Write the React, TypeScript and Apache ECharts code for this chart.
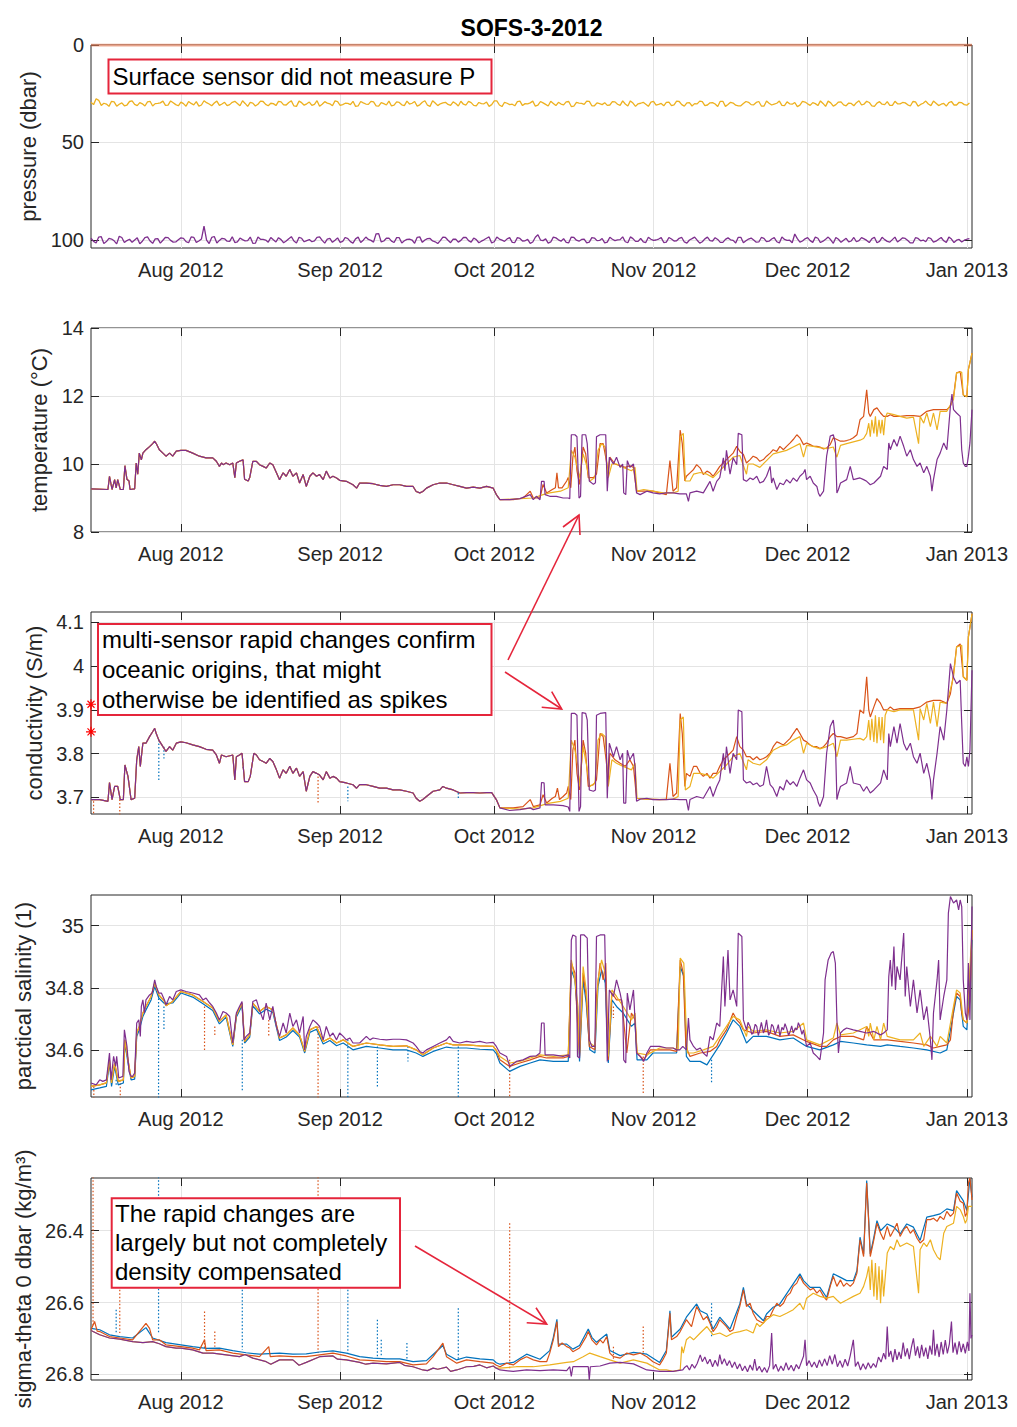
import React, { useEffect, useRef } from "react";
import * as echarts from "echarts";

const FONT = '"Liberation Sans", Arial, Helvetica, sans-serif';
const INK = "#262626";
const GRIDC = "#E4E4E4";
const C_BLUE = "#0072BD";
const C_ORANGE = "#D95319";
const C_YELLOW = "#EDB120";
const C_PURPLE = "#7E2F8E";
const RED = "#E5253B";

const AUG1 = Date.UTC(2012, 7, 1);
const DAY = 86400000;
const X_START_DAY = -17.5;
const X_END_DAY = 154;
const monthTicks = [
  Date.UTC(2012, 7, 1), Date.UTC(2012, 8, 1), Date.UTC(2012, 9, 1),
  Date.UTC(2012, 10, 1), Date.UTC(2012, 11, 1), Date.UTC(2013, 0, 1),
];
const MONTHS = ["Jan", "Feb", "Mar", "Apr", "May", "Jun", "Jul", "Aug", "Sep", "Oct", "Nov", "Dec"];

// ---------- tick labels ----------
const presTicks = [0, 50, 100];
const tempTicks = [8, 10, 12, 14];
const condTicks = [3.7, 3.8, 3.9, 4.0, 4.1];
const salTicks = [34.6, 34.8, 35.0];
const sigTicks = [26.4, 26.6, 26.8];

// ---------- pressure (dbar): daily samples from day -17.5 (A) and day -17.0 (B) ----------
const presOrange = [[-17.5, 0], [154, 0]];
const presYellowA = [
  29.4, 27.6, 31.0, 30.3, 28.9, 31.4, 29.7, 30.8, 28.7, 31.1,
  30.2, 29.2, 31.3, 30.0, 28.8, 30.9, 29.6, 31.2, 30.1, 29.0,
  30.7, 31.4, 28.6, 30.3, 29.8, 31.0, 29.4, 30.6, 28.9, 31.2,
  30.0, 29.5, 31.3, 28.8, 30.5, 29.9, 31.1, 29.2, 30.8, 28.7,
  31.5, 29.6, 30.2, 31.0, 28.6, 30.4, 29.8, 31.2, 29.1, 30.6,
  30.0, 28.9, 31.3, 29.7, 30.5, 29.2, 31.4, 30.1, 28.8, 30.9,
  29.5, 31.1, 30.3, 29.0, 30.7, 28.6, 31.5, 29.8, 30.2, 29.4,
  31.0, 30.0, 28.9, 30.8, 29.6, 31.2, 30.1, 29.3, 30.6, 28.7,
  31.6, 29.9, 30.4, 29.1, 31.1, 30.2, 28.8, 30.9, 29.7, 31.3,
  30.0, 29.4, 30.7, 29.0, 31.4, 29.8, 30.5, 28.9, 31.2, 30.1,
  29.6, 30.8, 29.2, 31.0, 30.3, 28.7, 31.5, 29.9, 30.4, 29.3,
  30.9, 30.0, 29.5, 31.1, 28.8, 30.6, 29.7, 31.3, 30.2, 29.1,
  30.8, 29.6, 31.6, 28.9, 30.5, 29.8, 31.2, 30.0, 29.4, 30.7,
  29.0, 31.4, 29.9, 30.3, 28.8, 31.1, 30.2, 29.5, 30.9, 29.3,
  31.0, 30.1, 28.7, 31.5, 29.7, 30.6, 29.2, 31.2, 30.0, 29.6,
  30.8, 28.9, 31.3, 29.8, 30.4, 29.1, 31.0, 30.2, 29.5, 30.7,
  29.0, 31.4, 29.9, 30.3, 28.8, 31.1, 30.0, 29.6, 30.8, 29.4,
  30.6, 29.8,
];
const presYellowB = [
  30.6, 28.4, 29.9, 31.5, 29.2, 30.4, 31.2, 29.0, 30.5, 29.6,
  31.3, 28.9, 30.1, 29.7, 31.0, 28.7, 30.6, 29.3, 31.4, 30.0,
  29.1, 30.8, 29.6, 31.2, 28.8, 30.3, 31.1, 29.4, 30.0, 28.6,
  31.5, 29.8, 30.4, 29.0, 31.2, 30.1, 28.9, 30.7, 29.5, 31.3,
  28.8, 30.9, 29.3, 30.5, 31.4, 29.1, 30.2, 28.7, 31.0, 29.9,
  30.6, 31.5, 29.0, 30.3, 28.9, 31.2, 29.6, 30.8, 31.3, 29.2,
  30.7, 28.8, 29.9, 31.4, 29.4, 30.9, 28.6, 31.1, 29.7, 30.5,
  29.2, 31.3, 30.4, 28.9, 31.0, 29.5, 30.2, 31.5, 28.7, 30.8,
  29.4, 30.6, 31.2, 28.8, 30.1, 29.7, 31.4, 29.0, 30.5, 28.9,
  31.1, 30.3, 29.2, 31.6, 29.5, 30.0, 28.8, 31.2, 29.7, 30.6,
  31.0, 29.1, 30.4, 28.7, 31.3, 29.8, 30.2, 29.4, 31.5, 28.9,
  30.5, 31.2, 29.3, 30.7, 29.0, 31.4, 29.6, 30.1, 28.8, 31.1,
  29.7, 30.3, 28.9, 31.5, 29.4, 30.9, 31.2, 29.0, 30.6, 29.5,
  31.3, 28.7, 30.8, 29.9, 31.0, 29.2, 30.4, 31.6, 28.9, 30.2,
  29.6, 31.1, 30.0, 28.8, 31.4, 29.3, 30.7, 29.8, 31.2, 28.6,
  30.3, 29.5, 31.5, 29.1, 30.6, 31.0, 28.9, 30.2, 29.7, 31.3,
  29.2, 30.5, 28.8, 31.1, 29.9, 30.4, 31.4, 29.0, 30.8, 29.6,
  30.9,
];
const presPurpleA = [
  99.2, 101.6, 98.4, 100.9, 99.6, 102.1, 98.8, 100.4, 101.3, 99.0,
  100.7, 98.5, 101.8, 99.4, 100.2, 98.9, 101.2, 100.0, 99.3, 101.5,
  98.7, 100.6, 93.0, 101.9, 98.3, 100.3, 99.5, 100.8, 101.4, 99.1,
  100.5, 98.6, 101.7, 99.7, 100.1, 98.8, 101.1, 99.9, 100.6, 98.4,
  101.6, 99.2, 100.4, 101.0, 98.7, 100.3, 99.6, 101.3, 99.0, 100.8,
  99.4, 101.7, 98.6, 100.2, 99.8, 101.2, 96.8, 100.6, 99.1, 101.4,
  98.9, 100.5, 99.7, 101.8, 98.5, 100.1, 99.3, 101.0, 100.4, 98.8,
  101.5, 99.6, 100.3, 98.7, 101.2, 99.9, 100.7, 99.2, 101.6, 98.6,
  100.2, 99.5, 101.3, 98.9, 100.6, 99.8, 101.1, 97.4, 100.4, 101.7,
  98.6, 100.0, 99.4, 101.5, 98.8, 100.7, 99.6, 101.2, 99.1, 100.3,
  101.6, 98.7, 100.4, 99.9, 101.0, 98.5, 100.8, 99.3, 101.4, 99.7,
  100.1, 98.9, 101.2, 99.6, 100.5, 98.8, 101.7, 99.4, 100.2, 101.0,
  98.6, 100.6, 99.8, 101.3, 99.0, 100.3, 98.7, 101.5, 99.6, 100.1,
  101.1, 99.3, 100.7, 98.9, 101.6, 99.8, 100.2, 97.0, 101.2, 99.5,
  100.4, 98.6, 101.4, 99.7, 100.0, 98.8, 101.3, 99.2, 100.6, 101.0,
  98.9, 100.3, 99.5, 101.5, 98.7, 100.8, 99.9, 101.1, 99.0, 100.4,
  101.6, 99.3, 100.1, 98.8, 101.2, 99.7, 100.5, 98.6, 101.4, 99.8,
  100.2, 99.4,
];
const presPurpleB = [
  100.8, 98.6, 101.9, 99.3, 100.5, 98.2, 101.4, 99.7, 100.1, 102.0,
  98.9, 100.6, 99.5, 101.7, 98.7, 100.3, 101.1, 99.0, 100.9, 98.5,
  101.3, 99.6, 100.2, 98.8, 101.6, 99.2, 100.7, 98.4, 101.0, 99.9,
  100.4, 101.8, 98.6, 99.8, 101.2, 100.0, 98.9, 101.5, 99.4, 100.6,
  98.7, 101.0, 99.9, 100.5, 98.5, 101.7, 99.3, 100.2, 101.3, 98.8,
  100.9, 99.5, 101.4, 98.6, 100.3, 96.9, 101.1, 99.2, 100.7, 98.9,
  101.6, 99.8, 100.1, 98.7, 101.3, 99.4, 100.6, 101.9, 98.6, 100.2,
  99.7, 101.2, 98.8, 100.4, 99.1, 101.5, 100.0, 98.5, 101.0, 99.6,
  100.8, 98.9, 101.4, 99.3, 100.5, 101.8, 98.7, 100.1, 99.5, 101.1,
  99.0, 100.7, 101.3, 98.6, 100.2, 99.8, 101.6, 98.9, 100.4, 99.3,
  101.2, 99.7, 100.0, 98.5, 101.5, 99.4, 100.8, 101.0, 98.7, 100.3,
  99.6, 101.4, 98.8, 100.6, 99.2, 101.1, 100.1, 98.6, 101.7, 99.5,
  100.4, 98.9, 101.3, 99.8, 100.0, 101.6, 98.7, 100.5, 99.1, 101.2,
  98.8, 100.9, 99.6, 101.0, 98.5, 100.3, 101.5, 99.4, 100.6, 98.9,
  101.3, 99.2, 100.7, 98.6, 101.8, 99.7, 100.2, 101.1, 98.8, 100.4,
  99.5, 101.4, 98.7, 100.8, 99.9, 101.2, 98.6, 100.1, 99.3, 101.6,
  98.9, 100.5, 101.0, 99.4, 100.7, 98.8, 101.3, 99.6, 100.2, 101.1,
  99.7,
];

// ---------- temperature (°C), [day since 1 Aug 2012, value] ----------
const tempEarly = [
  [-17.5, 9.27], [-14.2, 9.25], [-13.9, 9.64], [-13.4, 9.25], [-12.9, 9.54], [-12.6, 9.3], [-12.3, 9.54], [-11.8, 9.25],
  [-11.2, 9.25], [-10.9, 9.95], [-10.5, 9.55], [-10.1, 9.5], [-9.9, 9.25], [-9.0, 9.27], [-8.7, 10.03], [-8.4, 9.7],
  [-8.1, 10.32], [-7.7, 10.12], [-7.4, 10.32], [-6.8, 10.42], [-6.1, 10.51], [-5.5, 10.6], [-5.1, 10.67], [-4.8, 10.6],
  [-4.2, 10.42], [-3.5, 10.32], [-2.9, 10.23], [-2.2, 10.32], [-1.6, 10.23], [-0.9, 10.38], [0, 10.4], [1.0, 10.4],
  [2.3, 10.32], [3.6, 10.23], [4.9, 10.18], [6.2, 10.18], [6.9, 10.08], [7.5, 9.93], [7.9, 10.03], [8.2, 9.98],
  [8.8, 10.03], [9.5, 9.98], [10.1, 10.03], [10.5, 9.6], [10.8, 10.03], [11.4, 10.08], [12.1, 10.12], [12.4, 9.55],
  [13.1, 9.5], [13.4, 9.6], [14.0, 10.08], [14.7, 10.08], [15.3, 9.98], [16.0, 9.93], [16.6, 9.88], [17.3, 10.03],
  [17.9, 9.98], [18.6, 9.74], [19.2, 9.54], [19.9, 9.74], [20.5, 9.64], [21.2, 9.84], [21.8, 9.64], [22.5, 9.74],
  [23.1, 9.44], [23.8, 9.69], [24.4, 9.34], [25.1, 9.64], [25.7, 9.74], [26.4, 9.64], [27.0, 9.69], [27.7, 9.54],
  [28.3, 9.79], [29.0, 9.59], [29.6, 9.64], [30.3, 9.59], [30.9, 9.52], [32.2, 9.49], [33.5, 9.39], [34.2, 9.29],
  [34.8, 9.44], [36.1, 9.44], [37.4, 9.42], [38.7, 9.37], [40.0, 9.34], [41.3, 9.39], [42.6, 9.39], [43.9, 9.34],
  [45.2, 9.34], [45.8, 9.19], [46.5, 9.15], [47.1, 9.19], [47.8, 9.29], [49.1, 9.39], [50.4, 9.44], [51.7, 9.44],
  [53.0, 9.39], [54.3, 9.34], [55.6, 9.29], [56.9, 9.32], [58.2, 9.29], [59.5, 9.34], [60.8, 9.29], [61.4, 9.1],
];
const tempPurpleLate = [
  [62.1, 8.95], [64.0, 8.95], [66.0, 8.98], [68.0, 9.1], [68.6, 8.95], [69.2, 9.05], [69.9, 8.95], [70.2, 9.49],
  [70.7, 9.49], [70.9, 9.1], [71.8, 9.05], [73.1, 9.05], [74.4, 9.0], [75.4, 9.0], [75.7, 8.98], [76.0, 10.86],
  [76.7, 10.86], [77.1, 10.8], [77.5, 9.0], [77.8, 9.05], [78.1, 10.86], [78.8, 10.86], [79.1, 10.6], [79.5, 9.5],
  [80.3, 9.4], [80.7, 9.45], [80.9, 10.8], [81.6, 10.86], [82.7, 10.86], [83.0, 9.2], [83.4, 10.2], [84.2, 10.0],
  [84.8, 10.2], [85.5, 9.9], [86.0, 10.0], [86.2, 9.15], [86.6, 9.1], [86.9, 10.1], [87.4, 9.9], [88.1, 10.0],
  [88.4, 9.6], [88.7, 9.15], [89.4, 9.1], [90.7, 9.2], [91.9, 9.15], [93.2, 9.12], [94.5, 9.15], [95.8, 9.15],
  [97.1, 9.12], [98.4, 9.12], [98.8, 8.9], [99.1, 9.15], [100.4, 9.2], [101.7, 9.15], [103.0, 9.49], [103.6, 9.2],
  [104.3, 9.49], [104.9, 9.6], [105.6, 10.18], [105.9, 9.8], [106.2, 10.4], [106.9, 9.7], [107.5, 10.18], [108.2, 9.98],
  [108.5, 10.9], [109.2, 10.86], [109.5, 9.54], [110.1, 9.49], [110.8, 9.59], [111.4, 9.54], [112.1, 9.64], [112.7, 9.44],
  [113.4, 9.49], [114.0, 9.64], [114.7, 9.93], [115.0, 9.44], [115.3, 9.59], [116.0, 9.25], [116.6, 9.44], [117.3, 9.39],
  [117.9, 9.54], [118.6, 9.44], [119.2, 9.59], [119.9, 9.49], [120.5, 9.64], [121.2, 9.74], [121.5, 9.84], [121.8, 9.54],
  [122.5, 9.64], [123.1, 9.44], [123.8, 9.34], [124.1, 9.15], [124.4, 9.05], [125.1, 9.2], [125.7, 10.23], [126.4, 10.82],
  [127.0, 10.86], [127.4, 10.62], [127.7, 9.15], [128.0, 9.25], [128.4, 9.44], [129.6, 9.54], [130.3, 9.93], [130.9, 9.54],
  [132.2, 9.59], [132.9, 9.54], [133.5, 9.49], [134.2, 9.39], [134.9, 9.44], [136.2, 9.64], [136.8, 9.93], [137.5, 9.84],
  [137.8, 10.62], [138.1, 10.42], [138.8, 10.72], [139.4, 10.52], [140.0, 10.82], [140.7, 10.52], [141.3, 10.23], [142.0, 10.42],
  [142.6, 10.13], [143.3, 9.93], [143.9, 10.03], [144.6, 9.74], [145.2, 9.93], [145.9, 9.64], [146.2, 9.2], [146.5, 9.54],
  [147.2, 10.13], [147.8, 10.32], [148.5, 10.62], [149.1, 10.42], [149.8, 11.7], [150.1, 12.06], [150.4, 11.6], [151.0, 11.5],
  [151.7, 11.4], [152.0, 10.42], [152.3, 10.03], [152.7, 9.93], [153.0, 9.93], [153.3, 10.23], [153.6, 10.62], [154.0, 11.6],
];
const tempOrangeLate = [
  [62.1, 8.95], [64.7, 8.95], [66.6, 9.0], [67.3, 9.1], [68.0, 9.2], [68.6, 9.0], [69.9, 9.0], [70.5, 9.4],
  [71.2, 9.15], [72.3, 9.25], [72.9, 9.3], [73.2, 9.74], [73.5, 9.3], [74.2, 9.3], [75.1, 9.5], [75.4, 9.6],
  [75.9, 9.3], [76.3, 10.2], [76.7, 10.5], [77.1, 9.8], [77.6, 9.4], [78.3, 10.5], [78.8, 10.3], [79.3, 9.6],
  [80.3, 9.6], [80.9, 9.7], [81.6, 10.6], [82.2, 10.6], [82.7, 10.2], [83.2, 9.7], [83.5, 10.2], [84.5, 10.0],
  [85.5, 9.95], [86.5, 9.9], [87.4, 9.95], [88.1, 9.9], [88.7, 9.2], [89.4, 9.2], [90.7, 9.2], [91.9, 9.2],
  [93.2, 9.15], [94.5, 9.1], [95.2, 10.1], [95.8, 9.2], [96.5, 9.3], [97.2, 11.0], [97.6, 10.6], [98.1, 9.5],
  [98.4, 9.64], [99.1, 9.74], [99.8, 9.84], [100.4, 9.98], [101.1, 9.88], [101.7, 9.69], [102.4, 9.79], [103.0, 9.74],
  [103.6, 9.64], [104.3, 9.79], [104.9, 9.93], [105.6, 10.03], [106.2, 10.13], [106.9, 10.23], [107.5, 10.32], [108.2, 10.52],
  [108.8, 10.37], [109.5, 10.28], [110.1, 10.03], [110.8, 10.13], [111.4, 10.23], [112.1, 10.18], [112.7, 10.08], [113.4, 10.13],
  [114.0, 10.23], [114.7, 10.32], [115.3, 10.42], [116.0, 10.37], [116.6, 10.52], [117.3, 10.42], [117.9, 10.52], [118.6, 10.62],
  [119.2, 10.72], [119.9, 10.86], [120.5, 10.77], [121.2, 10.57], [121.8, 10.62], [122.5, 10.57], [123.1, 10.52], [123.8, 10.52],
  [124.4, 10.5], [125.1, 10.44], [125.7, 10.47], [126.4, 10.57], [127.0, 10.77], [127.7, 10.72], [128.4, 10.67], [129.0, 10.67],
  [129.6, 10.69], [130.3, 10.72], [130.9, 10.77], [131.6, 10.86], [132.2, 11.3], [132.9, 11.4], [133.5, 12.18], [133.9, 11.5],
  [134.2, 11.4], [134.9, 11.6], [135.5, 11.65], [136.2, 11.5], [136.8, 11.4], [137.5, 11.4], [138.1, 11.45], [138.8, 11.4],
  [140.0, 11.4], [141.3, 11.42], [142.6, 11.42], [143.9, 11.4], [145.2, 11.55], [146.5, 11.6], [147.8, 11.6], [149.1, 11.6],
  [149.8, 11.7], [150.4, 11.98], [151.0, 12.68], [151.7, 12.72], [152.3, 12.03], [153.0, 11.98], [153.3, 12.78], [153.6, 12.98],
  [154.0, 13.26],
];
const tempYellowLate = [
  [62.1, 8.95], [66.0, 8.98], [68.6, 9.0], [70.5, 9.1], [71.8, 9.15], [73.9, 9.2], [75.4, 9.3], [76.0, 10.4],
  [76.7, 10.2], [77.3, 9.8], [77.6, 9.6], [78.3, 10.3], [78.9, 10.0], [79.6, 9.5], [80.6, 9.6], [81.2, 10.4],
  [81.9, 10.6], [82.6, 10.5], [83.2, 9.6], [83.9, 10.0], [84.8, 10.0], [86.1, 9.9], [87.7, 9.8], [88.4, 9.9],
  [88.8, 9.2], [90.1, 9.25], [91.9, 9.2], [93.9, 9.15], [95.8, 9.15], [96.8, 9.2], [97.2, 10.8], [97.8, 10.9],
  [98.2, 9.5], [99.1, 9.5], [99.8, 9.7], [101.1, 9.75], [102.4, 9.7], [103.6, 9.6], [104.9, 9.8], [106.2, 10.0],
  [107.5, 10.2], [108.8, 10.25], [110.1, 9.7], [110.4, 10.0], [111.4, 10.0], [112.7, 9.9], [114.0, 10.1], [115.3, 10.3],
  [116.6, 10.35], [117.9, 10.4], [119.2, 10.5], [120.5, 10.6], [121.2, 10.2], [121.8, 10.55], [123.1, 10.52], [124.4, 10.48],
  [125.7, 10.45], [127.0, 10.5], [127.7, 10.2], [128.4, 10.55], [129.6, 10.6], [130.9, 10.65], [132.2, 10.7], [132.9, 10.75],
  [133.5, 10.9], [133.9, 11.2], [134.2, 10.8], [134.5, 11.3], [134.9, 10.9], [135.2, 11.4], [135.5, 10.8], [135.9, 11.3],
  [136.2, 10.9], [136.5, 11.3], [136.8, 10.85], [137.1, 11.35], [137.5, 11.5], [138.8, 11.45], [140.0, 11.4], [141.3, 11.35],
  [142.6, 11.38], [143.6, 10.6], [143.9, 11.4], [144.6, 11.2], [145.2, 11.5], [145.9, 11.1], [146.5, 11.5], [147.2, 11.0],
  [147.8, 11.55], [149.1, 11.55], [150.4, 11.9], [151.0, 12.68], [152.0, 12.7], [152.3, 12.03], [153.0, 11.98], [153.3, 12.78],
  [154.0, 13.26],
];

// ---------- conductivity (S/m) ----------
const condEarly = [
  [-17.5, 3.695], [-15.8, 3.695], [-14.2, 3.691], [-13.9, 3.734], [-13.4, 3.695], [-12.9, 3.725], [-12.3, 3.725], [-11.8, 3.695],
  [-11.2, 3.695], [-10.9, 3.774], [-10.3, 3.748], [-9.7, 3.695], [-9.0, 3.698], [-8.6, 3.786], [-8.2, 3.816], [-7.9, 3.771],
  [-7.4, 3.824], [-6.8, 3.824], [-6.1, 3.839], [-5.5, 3.85], [-5.1, 3.858], [-4.8, 3.846], [-4.3, 3.831], [-3.5, 3.816],
  [-2.9, 3.805], [-2.2, 3.816], [-1.6, 3.808], [-0.9, 3.824], [0, 3.827], [1.0, 3.825], [2.3, 3.82], [3.6, 3.816],
  [4.9, 3.81], [6.2, 3.808], [6.9, 3.797], [7.5, 3.778], [7.9, 3.797], [8.8, 3.793], [10.1, 3.797], [10.5, 3.74],
  [10.8, 3.793], [11.4, 3.797], [11.9, 3.801], [12.4, 3.736], [13.1, 3.736], [13.5, 3.748], [14.2, 3.801], [14.7, 3.797],
  [15.3, 3.786], [16.0, 3.782], [16.6, 3.778], [17.3, 3.789], [17.9, 3.782], [18.6, 3.763], [19.2, 3.744], [19.9, 3.763],
  [20.5, 3.755], [21.2, 3.771], [21.8, 3.755], [22.5, 3.767], [23.1, 3.748], [23.8, 3.759], [24.4, 3.714], [25.1, 3.748],
  [25.7, 3.759], [26.4, 3.755], [27.0, 3.751], [27.7, 3.74], [28.3, 3.759], [29.0, 3.744], [29.6, 3.748], [30.3, 3.744],
  [30.9, 3.736], [32.2, 3.733], [33.5, 3.729], [34.2, 3.721], [34.8, 3.729], [36.1, 3.729], [37.4, 3.725], [38.7, 3.721],
  [40.0, 3.721], [41.3, 3.717], [42.6, 3.717], [43.9, 3.714], [45.2, 3.71], [45.8, 3.698], [46.5, 3.691], [47.1, 3.695],
  [47.8, 3.702], [49.1, 3.714], [50.4, 3.717], [51.0, 3.725], [51.7, 3.721], [53.0, 3.717], [54.3, 3.71], [55.6, 3.711],
  [56.9, 3.711], [58.2, 3.71], [59.5, 3.711], [60.5, 3.711], [61.4, 3.695],
];
const condPurpleLate = [
  [62.1, 3.676], [64.0, 3.67], [66.0, 3.672], [68.0, 3.676], [68.6, 3.672], [69.9, 3.676], [70.2, 3.734], [70.7, 3.733],
  [70.9, 3.683], [72.5, 3.683], [74.4, 3.681], [75.4, 3.678], [75.7, 3.668], [76.0, 3.892], [76.7, 3.892], [77.1, 3.888],
  [77.5, 3.668], [77.8, 3.679], [78.1, 3.894], [78.8, 3.892], [79.1, 3.877], [79.5, 3.717], [80.3, 3.714], [80.7, 3.717],
  [80.9, 3.888], [81.6, 3.892], [82.7, 3.894], [83.0, 3.698], [83.4, 3.824], [84.2, 3.793], [84.8, 3.816], [85.5, 3.786],
  [86.0, 3.801], [86.2, 3.687], [86.6, 3.687], [86.9, 3.808], [87.4, 3.786], [88.1, 3.801], [88.4, 3.771], [88.7, 3.691],
  [89.4, 3.696], [90.7, 3.698], [91.9, 3.695], [93.2, 3.695], [94.5, 3.695], [95.8, 3.696], [97.1, 3.695], [98.4, 3.695],
  [98.8, 3.67], [99.1, 3.695], [100.4, 3.702], [101.7, 3.698], [103.0, 3.725], [103.6, 3.702], [104.3, 3.725], [104.9, 3.74],
  [105.6, 3.801], [105.9, 3.763], [106.2, 3.816], [106.9, 3.755], [107.5, 3.801], [108.2, 3.786], [108.5, 3.9], [109.2, 3.896],
  [109.5, 3.74], [110.1, 3.733], [110.8, 3.736], [111.4, 3.729], [112.1, 3.733], [112.7, 3.725], [113.4, 3.729], [114.0, 3.771],
  [114.7, 3.729], [115.3, 3.721], [116.0, 3.702], [116.6, 3.725], [117.3, 3.717], [117.9, 3.74], [118.6, 3.729], [119.2, 3.736],
  [119.9, 3.725], [120.5, 3.744], [121.2, 3.763], [121.8, 3.74], [122.5, 3.733], [123.1, 3.717], [123.8, 3.702], [124.1, 3.687],
  [124.4, 3.679], [125.1, 3.702], [125.7, 3.801], [126.4, 3.862], [127.0, 3.877], [127.4, 3.831], [127.7, 3.695], [128.0, 3.71],
  [128.4, 3.725], [129.6, 3.733], [130.3, 3.771], [130.9, 3.733], [132.2, 3.729], [132.9, 3.714], [133.5, 3.725], [134.2, 3.71],
  [134.9, 3.717], [136.2, 3.733], [136.8, 3.763], [137.5, 3.74], [137.8, 3.846], [138.1, 3.816], [138.8, 3.862], [139.4, 3.824],
  [140.0, 3.869], [140.7, 3.824], [141.3, 3.808], [142.0, 3.824], [142.6, 3.793], [143.3, 3.778], [143.9, 3.801], [144.6, 3.755],
  [145.2, 3.778], [145.9, 3.74], [146.2, 3.695], [146.5, 3.74], [147.2, 3.801], [147.8, 3.862], [148.5, 3.831], [149.1, 3.9],
  [149.8, 4.006], [150.1, 3.991], [150.4, 3.975], [151.0, 3.96], [151.7, 3.968], [152.0, 3.869], [152.3, 3.778], [152.7, 3.771],
  [153.0, 3.793], [153.3, 3.771], [153.6, 3.808], [154.0, 3.991],
];
const condOrangeLate = [
  [62.1, 3.676], [64.7, 3.676], [66.6, 3.679], [68.0, 3.695], [68.6, 3.679], [69.9, 3.683], [70.5, 3.706], [71.2, 3.687],
  [72.3, 3.698], [72.9, 3.702], [73.3, 3.721], [73.7, 3.695], [74.4, 3.702], [75.1, 3.71], [75.4, 3.725], [75.9, 3.695],
  [76.3, 3.808], [76.7, 3.831], [77.1, 3.755], [77.6, 3.717], [78.3, 3.831], [78.8, 3.801], [79.3, 3.725], [80.3, 3.729],
  [80.9, 3.74], [81.6, 3.846], [82.2, 3.839], [82.7, 3.793], [83.2, 3.74], [83.5, 3.801], [84.5, 3.786], [85.5, 3.778],
  [86.5, 3.771], [87.4, 3.786], [88.1, 3.771], [88.7, 3.698], [90.7, 3.696], [93.2, 3.695], [94.5, 3.696], [95.2, 3.778],
  [95.8, 3.702], [96.5, 3.71], [97.2, 3.892], [97.6, 3.846], [98.1, 3.725], [98.4, 3.755], [99.1, 3.748], [99.8, 3.771],
  [100.4, 3.771], [101.1, 3.755], [101.7, 3.748], [102.4, 3.755], [103.0, 3.744], [103.6, 3.755], [104.3, 3.755], [104.9, 3.771],
  [105.6, 3.786], [106.2, 3.793], [106.9, 3.801], [107.5, 3.808], [108.2, 3.839], [108.8, 3.816], [109.5, 3.808], [110.1, 3.793],
  [110.8, 3.793], [111.4, 3.786], [112.1, 3.793], [112.7, 3.786], [113.4, 3.789], [114.0, 3.793], [114.7, 3.801], [115.3, 3.816],
  [116.0, 3.827], [116.6, 3.824], [117.3, 3.82], [117.9, 3.827], [118.6, 3.835], [119.2, 3.846], [119.9, 3.858], [120.5, 3.846],
  [121.2, 3.831], [121.8, 3.827], [122.5, 3.82], [123.1, 3.816], [123.8, 3.816], [124.4, 3.812], [125.1, 3.816], [125.7, 3.824],
  [126.4, 3.839], [127.0, 3.846], [127.7, 3.839], [128.4, 3.839], [129.6, 3.835], [130.9, 3.839], [131.6, 3.846], [132.2, 3.9],
  [132.9, 3.892], [133.5, 3.976], [133.9, 3.9], [134.2, 3.884], [134.9, 3.907], [135.5, 3.926], [136.2, 3.915], [136.8, 3.9],
  [137.5, 3.9], [138.1, 3.907], [138.8, 3.9], [140.0, 3.903], [141.3, 3.903], [142.6, 3.903], [143.9, 3.907], [145.2, 3.918],
  [146.5, 3.922], [147.8, 3.922], [149.1, 3.915], [149.8, 3.937], [150.4, 3.983], [151.0, 4.044], [151.7, 4.051], [152.3, 3.976],
  [153.0, 3.968], [153.3, 4.067], [153.6, 4.089], [154.0, 4.12],
];
const condYellowLate = [
  [62.1, 3.676], [66.0, 3.673], [68.6, 3.676], [70.5, 3.683], [71.8, 3.687], [73.9, 3.691], [75.4, 3.698], [76.0, 3.831],
  [76.7, 3.808], [77.3, 3.771], [77.6, 3.725], [78.3, 3.816], [78.9, 3.778], [79.6, 3.725], [80.6, 3.733], [81.2, 3.831],
  [81.9, 3.846], [82.6, 3.839], [83.2, 3.725], [83.9, 3.786], [84.8, 3.778], [86.1, 3.771], [87.7, 3.763], [88.4, 3.778],
  [88.8, 3.698], [90.7, 3.696], [93.9, 3.695], [95.8, 3.696], [96.8, 3.702], [97.2, 3.877], [97.8, 3.884], [98.2, 3.717],
  [99.1, 3.725], [99.8, 3.755], [101.1, 3.755], [102.4, 3.751], [103.6, 3.744], [104.9, 3.759], [106.2, 3.774], [107.5, 3.793],
  [108.8, 3.801], [110.1, 3.763], [110.4, 3.786], [111.4, 3.778], [112.7, 3.774], [114.0, 3.786], [115.3, 3.808], [116.6, 3.816],
  [117.9, 3.82], [119.2, 3.831], [120.5, 3.839], [121.2, 3.801], [121.8, 3.824], [123.1, 3.816], [124.4, 3.811], [125.7, 3.816],
  [127.0, 3.824], [127.7, 3.793], [128.4, 3.831], [129.6, 3.831], [130.9, 3.833], [132.2, 3.835], [132.9, 3.831], [133.5, 3.839],
  [133.9, 3.877], [134.2, 3.831], [134.5, 3.88], [134.9, 3.827], [135.2, 3.888], [135.5, 3.824], [135.9, 3.884], [136.2, 3.831],
  [136.5, 3.884], [136.8, 3.824], [137.1, 3.888], [137.5, 3.9], [138.8, 3.896], [140.0, 3.9], [141.3, 3.9], [142.6, 3.9],
  [143.6, 3.831], [143.9, 3.903], [144.6, 3.877], [145.2, 3.915], [145.9, 3.869], [146.5, 3.918], [147.2, 3.862], [147.8, 3.918],
  [149.1, 3.915], [150.4, 3.975], [151.0, 4.044], [152.0, 4.048], [152.3, 3.976], [153.0, 3.968], [153.3, 4.067], [154.0, 4.12],
];
const condLimits = [[-17.5, 3.913], [-17.5, 3.85]];
// [day, from, to]
const condBlueSpikes = [[-4.3, 3.831, 3.74], [-3.3, 3.816, 3.789], [12.1, 3.778, 3.763], [32.5, 3.725, 3.691], [54.0, 3.71, 3.695]];
const condOrangeSpikes = [[-17.0, 3.691, 3.66], [-11.9, 3.695, 3.66], [26.7, 3.748, 3.687]];

// ---------- practical salinity ----------
const salPurpleEarly = [
  [-17.5, 34.496], [-16.5, 34.49], [-15.8, 34.506], [-15.2, 34.501], [-14.5, 34.506], [-13.9, 34.592], [-13.6, 34.506], [-13.1, 34.581],
  [-12.7, 34.549], [-12.5, 34.581], [-12.1, 34.512], [-11.3, 34.517], [-11.0, 34.666], [-10.5, 34.613], [-10.1, 34.533], [-9.7, 34.517],
  [-9.4, 34.517], [-9.0, 34.528], [-8.6, 34.688], [-8.2, 34.698], [-7.9, 34.645], [-7.7, 34.741], [-7.4, 34.762], [-7.1, 34.72],
  [-6.8, 34.762], [-6.1, 34.778], [-5.6, 34.784], [-5.1, 34.826], [-4.8, 34.805], [-4.3, 34.784], [-3.8, 34.784], [-3.2, 34.762],
  [-2.9, 34.746], [-2.2, 34.773], [-1.6, 34.762], [-0.9, 34.789], [0, 34.794], [1.0, 34.789], [2.3, 34.784], [3.6, 34.778],
  [4.3, 34.762], [4.9, 34.768], [5.6, 34.752], [6.2, 34.741], [6.9, 34.72], [7.5, 34.698], [8.2, 34.725], [8.8, 34.72],
  [9.5, 34.709], [10.1, 34.624], [10.8, 34.72], [11.4, 34.741], [11.9, 34.757], [12.3, 34.634], [12.7, 34.645], [13.4, 34.656],
  [14.0, 34.757], [14.7, 34.762], [15.3, 34.73], [16.0, 34.698], [16.6, 34.752], [17.3, 34.698], [17.9, 34.741], [18.6, 34.677],
  [19.2, 34.645], [19.9, 34.688], [20.5, 34.656], [21.2, 34.72], [21.8, 34.677], [22.5, 34.698], [23.1, 34.656], [23.8, 34.709],
  [24.1, 34.602], [24.4, 34.645], [25.1, 34.677], [25.7, 34.698], [26.4, 34.688], [27.0, 34.677], [27.7, 34.634], [28.3, 34.677],
  [29.0, 34.645], [29.6, 34.656], [30.3, 34.634], [30.9, 34.656], [31.6, 34.645], [32.2, 34.634], [32.9, 34.64], [33.5, 34.624],
  [34.8, 34.624], [36.1, 34.645], [36.8, 34.634], [37.4, 34.64], [38.7, 34.636], [40.0, 34.634], [41.3, 34.636], [42.6, 34.636],
  [43.9, 34.634], [45.2, 34.624], [45.8, 34.613], [46.5, 34.597], [47.1, 34.592], [47.8, 34.602], [49.1, 34.613], [50.4, 34.624],
  [51.7, 34.634], [52.3, 34.645], [53.0, 34.629], [54.3, 34.624], [55.6, 34.629], [56.9, 34.626], [58.2, 34.629], [59.5, 34.624],
  [60.8, 34.626], [61.4, 34.613],
];
const salPurpleLate = [
  [62.1, 34.592], [63.4, 34.581], [64.0, 34.549], [65.3, 34.565], [66.6, 34.57], [68.0, 34.581], [69.2, 34.583], [69.9, 34.592],
  [70.2, 34.688], [70.7, 34.688], [70.9, 34.586], [72.5, 34.586], [74.4, 34.581], [75.4, 34.586], [75.7, 34.576], [76.0, 34.954],
  [76.3, 34.97], [76.9, 34.965], [77.2, 34.581], [77.6, 34.576], [77.8, 34.97], [78.5, 34.97], [79.1, 34.96], [79.5, 34.634],
  [80.0, 34.613], [80.6, 34.613], [80.9, 34.965], [81.6, 34.97], [82.5, 34.97], [83.0, 34.565], [83.4, 34.794], [84.2, 34.773],
  [84.8, 34.826], [85.5, 34.784], [86.0, 34.741], [86.2, 34.57], [86.6, 34.56], [86.9, 34.784], [87.4, 34.73], [88.1, 34.794],
  [88.4, 34.698], [88.7, 34.592], [89.4, 34.581], [90.1, 34.565], [90.7, 34.592], [91.4, 34.613], [91.9, 34.613], [93.2, 34.613],
  [94.5, 34.608], [95.8, 34.608], [96.5, 34.602], [97.1, 34.602], [97.7, 34.613], [98.4, 34.602], [98.8, 34.704], [99.1, 34.634],
  [99.8, 34.613], [100.4, 34.602], [101.1, 34.608], [101.7, 34.592], [102.4, 34.581], [103.0, 34.645], [103.6, 34.634], [104.3, 34.688],
  [104.9, 34.677], [105.6, 34.901], [105.9, 34.741], [106.2, 34.826], [106.5, 34.922], [106.9, 34.762], [107.5, 34.794], [108.2, 34.741],
  [108.5, 34.976], [109.2, 34.965], [109.5, 34.698], [110.1, 34.666], [110.4, 34.69], [110.8, 34.677], [111.1, 34.652], [111.4, 34.656],
  [111.8, 34.684], [112.1, 34.677], [112.4, 34.648], [112.7, 34.666], [113.0, 34.69], [113.4, 34.656], [113.7, 34.671], [114.0, 34.698],
  [114.4, 34.649], [114.7, 34.656], [115.0, 34.684], [115.3, 34.677], [115.7, 34.651], [116.0, 34.666], [116.3, 34.683], [116.6, 34.645],
  [117.0, 34.674], [117.3, 34.666], [117.6, 34.686], [117.9, 34.672], [118.3, 34.648], [118.6, 34.661], [118.9, 34.679], [119.2, 34.656],
  [119.6, 34.672], [119.9, 34.666], [120.2, 34.689], [120.5, 34.677], [120.9, 34.652], [121.2, 34.666], [121.8, 34.613], [122.5, 34.624],
  [123.1, 34.592], [123.8, 34.581], [124.4, 34.57], [125.1, 34.656], [125.4, 34.826], [126.0, 34.89], [126.6, 34.912], [127.0, 34.917],
  [127.4, 34.88], [127.7, 34.698], [128.0, 34.592], [128.4, 34.656], [129.0, 34.666], [129.6, 34.672], [130.9, 34.666], [132.2, 34.661],
  [133.5, 34.656], [134.9, 34.661], [136.2, 34.65], [136.8, 34.656], [137.5, 34.666], [137.8, 34.837], [138.1, 34.89], [138.4, 34.805],
  [138.8, 34.933], [139.1, 34.794], [139.4, 34.869], [140.0, 34.826], [140.7, 34.976], [141.0, 34.773], [141.3, 34.869], [142.0, 34.741],
  [142.6, 34.826], [143.3, 34.72], [143.9, 34.794], [144.6, 34.698], [145.2, 34.741], [145.9, 34.634], [146.2, 34.57], [146.5, 34.72],
  [147.2, 34.826], [147.5, 34.89], [147.8, 34.698], [148.5, 34.773], [149.1, 34.826], [149.4, 35.04], [149.8, 35.093], [150.4, 35.072],
  [151.0, 35.082], [151.4, 35.05], [151.7, 35.082], [152.0, 35.061], [152.3, 34.826], [152.7, 34.72], [153.0, 34.698], [153.3, 34.88],
  [153.6, 34.698], [154.0, 35.061],
];
const salOrangeEarly = [
  [-17.5, 34.485], [-15.8, 34.49], [-14.5, 34.496], [-13.9, 34.57], [-13.5, 34.496], [-12.9, 34.56], [-12.2, 34.501], [-11.2, 34.506],
  [-10.9, 34.634], [-10.3, 34.57], [-9.7, 34.512], [-9.0, 34.517], [-8.6, 34.656], [-8.1, 34.677], [-7.4, 34.72], [-6.8, 34.741],
  [-5.8, 34.773], [-5.1, 34.816], [-4.3, 34.778], [-3.2, 34.757], [-2.9, 34.743], [-1.6, 34.757], [0, 34.789], [2.3, 34.778],
  [4.3, 34.757], [6.2, 34.736], [7.5, 34.693], [8.8, 34.714], [10.1, 34.618], [10.8, 34.714], [11.9, 34.752], [12.4, 34.629],
  [13.4, 34.65], [14.0, 34.752], [15.3, 34.725], [16.6, 34.741], [17.9, 34.73], [19.2, 34.64], [20.5, 34.65], [21.8, 34.672],
  [23.1, 34.65], [24.1, 34.597], [25.1, 34.666], [26.4, 34.677], [27.7, 34.629], [29.0, 34.64], [30.3, 34.624], [31.6, 34.634],
  [33.5, 34.613], [36.1, 34.624], [38.7, 34.618], [41.3, 34.613], [43.9, 34.615], [45.8, 34.602], [47.1, 34.586], [49.1, 34.608],
  [51.7, 34.624], [53.0, 34.618], [55.6, 34.618], [58.2, 34.615], [60.8, 34.613], [61.4, 34.6],
];
const salBlueEarly = [
  [-17.5, 34.474], [-15.8, 34.48], [-14.5, 34.485], [-13.9, 34.56], [-13.5, 34.485], [-12.9, 34.549], [-12.2, 34.49], [-11.2, 34.496],
  [-10.9, 34.624], [-10.3, 34.56], [-9.7, 34.506], [-9.0, 34.508], [-8.6, 34.645], [-8.1, 34.666], [-7.4, 34.709], [-6.8, 34.73],
  [-5.8, 34.762], [-5.1, 34.805], [-4.3, 34.768], [-3.2, 34.75], [-1.6, 34.752], [0, 34.784], [2.3, 34.771], [4.3, 34.75],
  [6.2, 34.728], [7.5, 34.685], [8.8, 34.707], [10.1, 34.613], [10.8, 34.707], [11.9, 34.743], [12.4, 34.624], [13.4, 34.643],
  [14.0, 34.743], [15.3, 34.717], [16.6, 34.732], [17.9, 34.722], [19.2, 34.632], [20.5, 34.643], [21.8, 34.664], [23.1, 34.643],
  [24.1, 34.592], [25.1, 34.658], [26.4, 34.668], [27.7, 34.621], [29.0, 34.632], [30.3, 34.615], [31.6, 34.624], [33.5, 34.602],
  [36.1, 34.613], [38.7, 34.608], [41.3, 34.602], [43.9, 34.602], [45.8, 34.592], [47.1, 34.581], [49.1, 34.597], [51.7, 34.611],
  [53.0, 34.608], [55.6, 34.608], [58.2, 34.604], [60.8, 34.602], [61.4, 34.59],
];
const salOrangeLate = [
  [62.1, 34.57], [64.0, 34.549], [66.0, 34.56], [68.0, 34.57], [69.9, 34.581], [71.2, 34.576], [72.5, 34.576], [74.4, 34.576],
  [75.4, 34.581], [76.0, 34.88], [76.7, 34.848], [77.1, 34.72], [77.6, 34.581], [78.3, 34.848], [78.9, 34.773], [79.5, 34.613],
  [80.6, 34.602], [80.9, 34.773], [81.6, 34.88], [82.2, 34.826], [82.7, 34.88], [83.2, 34.57], [83.9, 34.784], [84.8, 34.762],
  [85.8, 34.762], [86.8, 34.592], [87.7, 34.72], [88.4, 34.698], [88.8, 34.592], [90.1, 34.57], [91.4, 34.602], [93.2, 34.602],
  [95.2, 34.602], [96.5, 34.597], [97.2, 34.89], [97.8, 34.848], [98.3, 34.613], [99.1, 34.581], [101.1, 34.592], [103.0, 34.597],
  [104.3, 34.613], [104.9, 34.634], [106.2, 34.666], [107.5, 34.72], [108.2, 34.698], [108.8, 34.688], [109.5, 34.666], [111.4, 34.656],
  [114.0, 34.661], [116.6, 34.645], [119.2, 34.65], [121.8, 34.629], [124.4, 34.613], [125.7, 34.613], [127.0, 34.634], [128.4, 34.645],
  [130.9, 34.645], [132.9, 34.634], [133.5, 34.677], [134.9, 34.634], [137.5, 34.634], [140.0, 34.629], [142.6, 34.624], [145.2, 34.618],
  [146.5, 34.608], [147.8, 34.613], [149.1, 34.618], [149.8, 34.634], [150.4, 34.73], [151.0, 34.784], [151.7, 34.773], [152.0, 34.72],
  [152.3, 34.698], [153.0, 34.688], [153.6, 34.762], [154.0, 34.986],
];
const salYellowLate = [
  [62.1, 34.581], [64.0, 34.56], [66.0, 34.565], [68.0, 34.576], [69.9, 34.586], [72.5, 34.581], [75.4, 34.586], [76.0, 34.89],
  [76.7, 34.826], [77.3, 34.741], [77.6, 34.592], [78.3, 34.869], [78.9, 34.794], [79.6, 34.624], [80.6, 34.613], [81.2, 34.826],
  [81.9, 34.89], [82.6, 34.848], [83.2, 34.581], [83.9, 34.794], [84.8, 34.773], [86.1, 34.741], [87.7, 34.698], [88.4, 34.72],
  [88.8, 34.592], [90.7, 34.586], [93.2, 34.608], [95.8, 34.608], [96.8, 34.602], [97.2, 34.896], [97.9, 34.88], [98.3, 34.698],
  [98.6, 34.592], [99.8, 34.592], [101.7, 34.602], [103.6, 34.613], [104.9, 34.645], [106.2, 34.677], [107.5, 34.709], [108.8, 34.698],
  [110.1, 34.645], [110.4, 34.677], [111.4, 34.661], [114.0, 34.666], [116.6, 34.656], [119.2, 34.661], [121.2, 34.688], [121.8, 34.634],
  [124.4, 34.618], [127.0, 34.64], [127.7, 34.688], [128.4, 34.65], [130.9, 34.656], [133.5, 34.677], [133.9, 34.645], [134.2, 34.688],
  [134.9, 34.634], [135.5, 34.677], [136.2, 34.634], [136.8, 34.688], [137.5, 34.645], [140.0, 34.634], [142.6, 34.634], [143.9, 34.656],
  [144.6, 34.613], [145.9, 34.645], [147.2, 34.613], [147.8, 34.645], [149.1, 34.624], [150.4, 34.741], [151.0, 34.794], [151.7, 34.784],
  [152.3, 34.698], [153.0, 34.688], [154.0, 34.986],
];
const salBlueLate = [
  [62.1, 34.56], [64.0, 34.533], [66.0, 34.549], [68.0, 34.56], [69.9, 34.57], [72.5, 34.565], [75.4, 34.565], [76.0, 34.858],
  [76.7, 34.826], [77.3, 34.698], [77.6, 34.565], [78.3, 34.826], [78.9, 34.752], [79.6, 34.602], [80.6, 34.592], [81.2, 34.805],
  [81.9, 34.858], [82.6, 34.816], [83.2, 34.56], [83.9, 34.762], [84.8, 34.741], [86.1, 34.72], [87.7, 34.677], [88.4, 34.688],
  [88.8, 34.57], [90.7, 34.57], [91.9, 34.592], [94.5, 34.592], [96.5, 34.592], [97.2, 34.869], [97.9, 34.837], [98.4, 34.581],
  [99.1, 34.565], [101.1, 34.565], [102.4, 34.554], [103.0, 34.57], [104.9, 34.618], [106.2, 34.656], [107.5, 34.698], [108.8, 34.677],
  [110.1, 34.624], [111.4, 34.645], [114.0, 34.645], [116.6, 34.634], [119.2, 34.64], [121.8, 34.613], [124.4, 34.602], [127.0, 34.618],
  [128.4, 34.629], [130.9, 34.624], [133.5, 34.618], [136.2, 34.613], [137.5, 34.618], [140.0, 34.613], [142.6, 34.608], [145.2, 34.602],
  [147.8, 34.592], [149.1, 34.602], [150.4, 34.72], [151.0, 34.773], [151.7, 34.762], [152.3, 34.677], [153.0, 34.666], [154.0, 34.954],
];
const salBlueSpikes = [
  [-12.6, 34.506, 34.485], [-4.35, 34.778, 34.44], [-3.3, 34.741, 34.666], [11.95, 34.634, 34.469], [32.5, 34.634, 34.44],
  [38.25, 34.613, 34.485], [44.2, 34.613, 34.565], [54.0, 34.613, 34.44], [103.3, 34.57, 34.496],
];
const salOrangeSpikes = [
  [-16.95, 34.485, 34.44], [-11.8, 34.506, 34.44], [4.6, 34.741, 34.597], [6.6, 34.677, 34.645], [17.1, 34.698, 34.645],
  [26.7, 34.677, 34.44], [64.0, 34.57, 34.44], [84.2, 34.741, 34.704], [90.0, 34.581, 34.464],
];

// ---------- sigma-theta (kg/m3) ----------
const sigPurpleEarly = [
  [-17.5, 26.678], [-15.8, 26.69], [-13.9, 26.699], [-11.9, 26.702], [-9.4, 26.709], [-7.4, 26.712], [-5.5, 26.709], [-4.2, 26.715],
  [-2.9, 26.723], [-0.9, 26.727], [0, 26.727], [2.3, 26.732], [4.3, 26.741], [6.2, 26.741], [8.8, 26.746], [11.4, 26.751],
  [12.5, 26.745], [14.0, 26.755], [16.6, 26.765], [17.5, 26.772], [19.2, 26.76], [21.8, 26.76], [23.0, 26.775], [24.4, 26.767],
  [27.0, 26.751], [29.6, 26.749], [30.5, 26.758], [32.2, 26.76], [34.8, 26.767], [36.0, 26.772], [37.4, 26.769], [40.0, 26.771],
  [42.6, 26.767], [43.5, 26.775], [45.2, 26.779], [47.1, 26.788], [48.0, 26.79], [49.1, 26.783], [50.0, 26.786], [51.7, 26.78],
  [52.5, 26.792], [53.7, 26.788], [55.6, 26.779], [57.0, 26.778], [58.2, 26.774], [59.5, 26.782], [60.8, 26.777], [61.4, 26.783],
];
const sigOrangeEarly = [
  [-17.5, 26.676], [-16.8, 26.653], [-16.3, 26.68], [-15.8, 26.681], [-13.9, 26.695], [-11.9, 26.699], [-9.4, 26.704], [-6.8, 26.658],
  [-6.1, 26.672], [-5.5, 26.704], [-4.2, 26.704], [-2.9, 26.718], [0, 26.723], [2.3, 26.727], [3.6, 26.732], [4.6, 26.704],
  [4.9, 26.734], [7.5, 26.732], [10.1, 26.741], [12.7, 26.746], [15.3, 26.751], [17.1, 26.723], [17.4, 26.751], [19.2, 26.749],
  [21.8, 26.751], [24.4, 26.751], [27.0, 26.746], [29.6, 26.741], [32.2, 26.749], [34.8, 26.76], [37.4, 26.762], [40.0, 26.765],
  [42.6, 26.765], [45.2, 26.774], [47.8, 26.771], [49.1, 26.751], [51.0, 26.713], [51.7, 26.751], [53.7, 26.769], [55.6, 26.76],
  [58.2, 26.765], [60.8, 26.769], [61.4, 26.775],
];
const sigBlueEarly = [
  [-17.5, 26.672], [-15.8, 26.676], [-13.9, 26.69], [-11.9, 26.695], [-9.4, 26.699], [-6.8, 26.67], [-5.5, 26.699], [-2.9, 26.712],
  [0, 26.718], [2.3, 26.723], [4.9, 26.728], [7.5, 26.727], [10.1, 26.734], [12.7, 26.74], [15.3, 26.744], [19.2, 26.741],
  [21.8, 26.744], [24.4, 26.743], [27.0, 26.738], [29.6, 26.735], [32.2, 26.741], [34.8, 26.751], [37.4, 26.755], [40.0, 26.757],
  [42.6, 26.757], [45.2, 26.765], [47.8, 26.762], [49.1, 26.745], [51.0, 26.72], [51.7, 26.744], [53.7, 26.76], [55.6, 26.752],
  [58.2, 26.757], [60.8, 26.76], [61.4, 26.768],
];
const sigPurpleLate = [
  [62.1, 26.788], [64.7, 26.792], [67.3, 26.788], [69.9, 26.79], [72.5, 26.788], [75.1, 26.79], [75.7, 26.779], [76.0, 26.806],
  [76.3, 26.779], [77.6, 26.779], [79.3, 26.779], [79.5, 26.816], [79.7, 26.779], [81.6, 26.777], [83.5, 26.769], [85.5, 26.767],
  [88.1, 26.771], [90.7, 26.788], [93.2, 26.792], [95.8, 26.792], [97.7, 26.788],
  [98.0, 26.782], [98.5, 26.776], [99.0, 26.788], [99.5, 26.772], [100.0, 26.783], [100.5, 26.77], [101.1, 26.746], [101.5, 26.765],
  [102.0, 26.752], [102.5, 26.771], [103.0, 26.758], [103.5, 26.779], [104.0, 26.761], [104.5, 26.778], [104.9, 26.745], [105.3, 26.772],
  [105.8, 26.757], [106.3, 26.776], [106.8, 26.762], [107.3, 26.781], [107.8, 26.766], [108.3, 26.785], [108.8, 26.771], [109.3, 26.79],
  [109.8, 26.777], [110.3, 26.793], [110.8, 26.774], [111.3, 26.789], [111.7, 26.758], [112.1, 26.79], [112.6, 26.778], [113.1, 26.794],
  [113.6, 26.781], [114.1, 26.795], [114.6, 26.776], [115.0, 26.685], [115.3, 26.786], [115.8, 26.772], [116.3, 26.792], [116.8, 26.777],
  [117.3, 26.79], [117.8, 26.768], [118.3, 26.788], [118.8, 26.775], [119.3, 26.791], [119.8, 26.773], [120.3, 26.785], [120.8, 26.765],
  [121.2, 26.75], [121.5, 26.704], [121.8, 26.776], [122.3, 26.762], [122.8, 26.78], [123.3, 26.766], [123.8, 26.782], [124.3, 26.76],
  [124.8, 26.778], [125.3, 26.757], [125.8, 26.776], [126.3, 26.748], [126.8, 26.772], [127.3, 26.745], [127.8, 26.779], [128.3, 26.762],
  [128.8, 26.781], [129.3, 26.758], [129.8, 26.777], [130.3, 26.748], [130.9, 26.704], [131.3, 26.778], [131.8, 26.765], [132.3, 26.788],
  [132.8, 26.771], [133.3, 26.786], [133.8, 26.768], [134.3, 26.783], [134.8, 26.77], [135.3, 26.781], [135.8, 26.752], [136.3, 26.766],
  [136.8, 26.741], [137.2, 26.758], [137.5, 26.667], [137.8, 26.751], [138.2, 26.735], [138.6, 26.766], [139.0, 26.73], [139.4, 26.76],
  [139.8, 26.738], [140.2, 26.757], [140.6, 26.712], [141.0, 26.75], [141.4, 26.728], [141.8, 26.758], [142.2, 26.725], [142.6, 26.7],
  [143.0, 26.748], [143.4, 26.722], [143.8, 26.755], [144.2, 26.718], [144.6, 26.75], [145.0, 26.726], [145.4, 26.757], [145.8, 26.72],
  [146.2, 26.745], [146.5, 26.676], [146.8, 26.748], [147.2, 26.715], [147.6, 26.752], [148.0, 26.71], [148.4, 26.745], [148.8, 26.705],
  [149.2, 26.742], [149.6, 26.715], [150.0, 26.653], [150.3, 26.74], [150.7, 26.712], [151.1, 26.745], [151.5, 26.708], [151.9, 26.738],
  [152.3, 26.715], [152.7, 26.742], [153.1, 26.71], [153.4, 26.735], [153.6, 26.574], [153.8, 26.7], [154.0, 26.69],
];
const sigOrangeLate = [
  [62.1, 26.779], [63.4, 26.769], [64.7, 26.774], [66.0, 26.76], [67.3, 26.751], [68.6, 26.76], [69.9, 26.765], [71.2, 26.765],
  [71.8, 26.741], [72.5, 26.704], [73.2, 26.653], [73.5, 26.723], [74.2, 26.713], [75.1, 26.723], [75.7, 26.727], [76.3, 26.737],
  [77.6, 26.727], [78.9, 26.695], [79.3, 26.681], [80.0, 26.704], [80.9, 26.718], [81.6, 26.704], [82.2, 26.713], [82.9, 26.695],
  [83.5, 26.741], [84.2, 26.751], [85.5, 26.755], [86.8, 26.741], [88.1, 26.746], [89.4, 26.741], [90.7, 26.751], [91.9, 26.765],
  [93.2, 26.774], [93.8, 26.76], [94.5, 26.741], [95.2, 26.63], [95.5, 26.704], [96.5, 26.695], [97.2, 26.681], [98.4, 26.648],
  [99.4, 26.667], [100.4, 26.611], [101.1, 26.63], [101.7, 26.648], [102.4, 26.639], [103.0, 26.658], [103.6, 26.681], [104.3, 26.667],
  [104.9, 26.648], [105.6, 26.658], [106.2, 26.667], [106.9, 26.681], [107.5, 26.676], [108.2, 26.639], [108.8, 26.611], [109.5, 26.565],
  [110.1, 26.611], [110.8, 26.602], [111.4, 26.63], [112.1, 26.648], [112.7, 26.653], [113.4, 26.658], [114.0, 26.639], [114.7, 26.639],
  [115.3, 26.62], [116.0, 26.602], [116.6, 26.611], [117.3, 26.602], [117.9, 26.583], [118.6, 26.574], [119.2, 26.555], [119.9, 26.546],
  [120.5, 26.527], [121.2, 26.546], [121.8, 26.555], [122.5, 26.565], [123.1, 26.56], [123.8, 26.574], [124.4, 26.565], [125.1, 26.583],
  [125.7, 26.593], [126.4, 26.555], [127.0, 26.527], [127.7, 26.555], [128.4, 26.537], [129.0, 26.555], [129.6, 26.546], [130.3, 26.555],
  [130.9, 26.546], [131.6, 26.518], [132.2, 26.425], [132.9, 26.472], [133.5, 26.267], [133.9, 26.379], [134.2, 26.472], [134.9, 26.425],
  [135.5, 26.379], [136.2, 26.407], [136.8, 26.425], [137.5, 26.388], [138.1, 26.416], [138.8, 26.397], [139.4, 26.379], [140.0, 26.416],
  [140.7, 26.397], [141.3, 26.388], [142.0, 26.407], [142.6, 26.397], [143.3, 26.421], [143.9, 26.434], [144.6, 26.425], [145.2, 26.369],
  [145.9, 26.369], [146.5, 26.365], [147.2, 26.374], [147.8, 26.36], [148.5, 26.369], [149.1, 26.346], [149.8, 26.36], [150.4, 26.351],
  [151.0, 26.295], [151.7, 26.318], [152.3, 26.323], [152.7, 26.36], [153.0, 26.351], [153.3, 26.267], [153.6, 26.253], [154.0, 26.314],
];
const sigBlueLate = [
  [62.1, 26.772], [64.7, 26.767], [67.3, 26.744], [69.9, 26.758], [71.8, 26.734], [72.5, 26.697], [73.2, 26.647], [73.5, 26.716],
  [75.1, 26.716], [76.3, 26.73], [77.6, 26.72], [79.3, 26.674], [80.0, 26.697], [80.9, 26.711], [82.9, 26.688], [83.5, 26.734],
  [85.5, 26.748], [88.1, 26.739], [90.7, 26.744], [93.2, 26.767], [94.5, 26.734], [95.2, 26.623], [95.5, 26.697], [97.2, 26.674],
  [98.4, 26.641], [100.4, 26.604], [101.1, 26.623], [102.4, 26.632], [103.6, 26.674], [104.9, 26.641], [106.9, 26.674], [108.8, 26.604],
  [109.5, 26.558], [110.1, 26.604], [111.4, 26.623], [113.4, 26.651], [114.0, 26.632], [115.3, 26.613], [116.6, 26.604], [117.9, 26.576],
  [119.2, 26.548], [120.5, 26.52], [121.2, 26.539], [122.5, 26.558], [124.4, 26.558], [125.7, 26.586], [127.0, 26.52], [128.4, 26.53],
  [129.6, 26.539], [130.9, 26.539], [131.6, 26.511], [132.2, 26.418], [132.9, 26.465], [133.5, 26.26], [133.9, 26.372], [134.2, 26.465],
  [134.9, 26.418], [135.5, 26.372], [136.2, 26.4], [137.5, 26.381], [138.8, 26.39], [140.0, 26.409], [141.3, 26.381], [142.6, 26.39],
  [143.9, 26.427], [145.2, 26.362], [146.5, 26.358], [147.8, 26.353], [149.1, 26.339], [150.4, 26.344], [151.0, 26.288], [152.3, 26.316],
  [153.0, 26.344], [153.6, 26.253], [154.0, 26.307],
];
const sigYellowLate = [
  [62.1, 26.783], [65.3, 26.779], [68.6, 26.779], [71.8, 26.774], [75.1, 26.767], [76.4, 26.765], [78.3, 26.751], [79.6, 26.741],
  [81.6, 26.751], [83.5, 26.76], [85.5, 26.769], [88.1, 26.76], [90.7, 26.769], [93.2, 26.788], [94.5, 26.788], [95.8, 26.792],
  [97.2, 26.788], [97.5, 26.723], [97.8, 26.741], [98.4, 26.704], [99.1, 26.695], [99.8, 26.704], [101.1, 26.685], [102.4, 26.667],
  [103.6, 26.69], [104.9, 26.685], [106.2, 26.695], [107.5, 26.685], [108.8, 26.681], [110.1, 26.676], [111.4, 26.685], [112.1, 26.658],
  [112.7, 26.667], [114.0, 26.648], [115.3, 26.634], [116.6, 26.639], [117.9, 26.63], [119.2, 26.62], [120.5, 26.602], [121.2, 26.62],
  [121.8, 26.588], [123.1, 26.574], [124.4, 26.583], [125.7, 26.588], [127.0, 26.583], [127.7, 26.593], [128.4, 26.602], [129.6, 26.593],
  [130.9, 26.583], [132.2, 26.574], [132.9, 26.555], [133.5, 26.527], [133.9, 26.499], [134.2, 26.565], [134.5, 26.481], [134.9, 26.583],
  [135.2, 26.49], [135.5, 26.593], [135.9, 26.499], [136.2, 26.602], [136.5, 26.509], [136.8, 26.583], [137.5, 26.462], [138.1, 26.444],
  [138.8, 26.453], [139.4, 26.425], [140.0, 26.444], [141.3, 26.434], [142.6, 26.444], [143.6, 26.574], [143.9, 26.453], [144.6, 26.434],
  [145.2, 26.444], [145.9, 26.425], [146.5, 26.453], [147.2, 26.472], [147.8, 26.481], [148.5, 26.407], [149.1, 26.388], [150.4, 26.379],
  [151.0, 26.332], [151.7, 26.341], [152.3, 26.36], [152.7, 26.379], [153.0, 26.369], [153.3, 26.332], [154.0, 26.332],
];
const sigBlueSpikes = [
  [-12.6, 26.62, 26.685], [-4.35, 26.24, 26.685], [11.95, 26.555, 26.732], [32.5, 26.555, 26.741], [38.25, 26.648, 26.751],
  [39.0, 26.704, 26.751], [44.0, 26.713, 26.76], [54.0, 26.616, 26.76], [103.3, 26.602, 26.695],
];
const sigOrangeSpikes = [
  [-17.1, 26.24, 26.667], [-11.9, 26.555, 26.685], [4.6, 26.625, 26.732], [6.6, 26.681, 26.723], [26.7, 26.24, 26.741],
  [64.0, 26.379, 26.788], [84.2, 26.723, 26.76], [90.0, 26.667, 26.741],
];

// ---------- helpers ----------
const T = (d: number) => AUG1 + d * DAY;
const pts = (arr: number[][]) => arr.map(([d, v]) => [T(d), v]);
const seq = (start: number, vals: number[]) => vals.map((v, i) => [T(start + i), v]);
const merge2 = (a: any[], b: any[]) => [...a, ...b].sort((p, q) => p[0] - q[0]);
const spikeData = (arr: number[][]) =>
  arr.flatMap(([d, a, b]) => [[T(d), a], [T(d), b], [T(d), "-"]]);

const GRIDS = [
  { top: 45, height: 203 },
  { top: 328, height: 204 },
  { top: 612, height: 202 },
  { top: 895, height: 202 },
  { top: 1178, height: 202 },
];

const PANELS = [
  { name: "pressure (dbar)", min: 0, max: 104.2, inverse: true, ticks: presTicks, gap: 48 },
  { name: "temperature (°C)", min: 8, max: 14, inverse: false, ticks: tempTicks, gap: 38 },
  { name: "conductivity (S/m)", min: 3.662, max: 4.124, inverse: false, ticks: condTicks, gap: 42 },
  { name: "parctical salinity (1)", min: 34.451, max: 35.098, inverse: false, ticks: salTicks, gap: 53 },
  { name: "sigma-theta 0 dbar (kg/m³)", min: 26.253, max: 26.816, inverse: true, ticks: sigTicks, gap: 55 },
];

function lineSeries(g: number, data: any[], color: string, extra: any = {}) {
  return {
    type: "line",
    xAxisIndex: g * 2,
    yAxisIndex: g * 2,
    data,
    showSymbol: false,
    symbol: "none",
    silent: true,
    animation: false,
    connectNulls: false,
    lineStyle: { color, width: 1.2 },
    itemStyle: { color },
    emphasis: { disabled: true },
    ...extra,
  };
}
function dotted(g: number, data: any[], color: string) {
  return lineSeries(g, data, color, { lineStyle: { color, width: 1.2, type: [1.5, 2] } });
}

function buildOption() {
  const xAxis: any[] = [];
  const yAxis: any[] = [];
  GRIDS.forEach((_, i) => {
    const p = PANELS[i];
    const base = { type: "value", gridIndex: i, min: T(X_START_DAY), max: T(X_END_DAY) };
    xAxis.push({
      ...base,
      position: "bottom",
      axisLine: { show: false },
      axisTick: { show: true, inside: true, length: 8, customValues: monthTicks, lineStyle: { color: INK } },
      axisLabel: {
        show: true,
        customValues: monthTicks,
        margin: 12,
        fontSize: 20,
        color: INK,
        fontFamily: FONT,
        formatter: (v: number) => {
          const d = new Date(v);
          return MONTHS[d.getUTCMonth()] + " " + d.getUTCFullYear();
        },
      },
      splitLine: { show: true, lineStyle: { color: GRIDC, width: 1 } },
    });
    xAxis.push({
      ...base,
      position: "top",
      axisLine: { show: false },
      axisTick: { show: true, inside: true, length: 8, customValues: monthTicks, lineStyle: { color: INK } },
      axisLabel: { show: false },
      splitLine: { show: false },
    });
    const ybase = { type: "value", gridIndex: i, min: p.min, max: p.max, inverse: p.inverse };
    yAxis.push({
      ...ybase,
      position: "left",
      name: p.name,
      nameLocation: "middle",
      nameGap: p.gap,
      nameTextStyle: { fontSize: 22, color: INK, fontFamily: FONT },
      axisLine: { show: false },
      axisTick: { show: true, inside: true, length: 8, customValues: p.ticks, lineStyle: { color: INK } },
      axisLabel: {
        show: true,
        customValues: p.ticks,
        margin: 7,
        fontSize: 20,
        color: INK,
        fontFamily: FONT,
        formatter: (v: number) => String(Math.round(v * 100) / 100),
      },
      splitLine: { show: true, lineStyle: { color: GRIDC, width: 1 } },
    });
    yAxis.push({
      ...ybase,
      position: "right",
      axisLine: { show: false },
      axisTick: { show: true, inside: true, length: 8, customValues: p.ticks, lineStyle: { color: INK } },
      axisLabel: { show: false },
      splitLine: { show: false },
    });
  });

  const asterisk = "path://M5,0L5,10M0,5L10,5M1.5,1.5L8.5,8.5M1.5,8.5L8.5,1.5";

  const series: any[] = [
    // pressure
    lineSeries(0, pts(presOrange), C_ORANGE, { lineStyle: { color: "rgba(230,120,80,0.6)", width: 3 } }),
    lineSeries(0, merge2(seq(X_START_DAY, presYellowA), seq(X_START_DAY + 0.5, presYellowB)), C_YELLOW, {
      lineStyle: { color: C_YELLOW, width: 1.3 },
    }),
    lineSeries(0, merge2(seq(X_START_DAY, presPurpleA), seq(X_START_DAY + 0.5, presPurpleB)), C_PURPLE, {
      lineStyle: { color: C_PURPLE, width: 1.3 },
    }),
    // temperature
    lineSeries(1, pts([...tempEarly, ...tempOrangeLate]), C_ORANGE),
    lineSeries(1, pts([...tempEarly, ...tempYellowLate]), C_YELLOW),
    lineSeries(1, pts([...tempEarly, ...tempPurpleLate]), C_PURPLE),
    // conductivity
    dotted(2, spikeData(condBlueSpikes), C_BLUE),
    dotted(2, spikeData(condOrangeSpikes), C_ORANGE),
    lineSeries(2, pts([...condEarly, ...condOrangeLate]), C_ORANGE),
    lineSeries(2, pts([...condEarly, ...condYellowLate]), C_YELLOW),
    lineSeries(2, pts([...condEarly, ...condPurpleLate]), C_PURPLE),
    lineSeries(2, pts(condLimits), "#FF0000", {
      showSymbol: true,
      symbol: asterisk,
      symbolSize: 10,
      clip: false,
      z: 5,
      lineStyle: { color: "#FF0000", width: 1 },
      itemStyle: { color: "#FF0000", borderColor: "#FF0000", borderWidth: 1.2 },
    }),
    // salinity
    dotted(3, spikeData(salBlueSpikes), C_BLUE),
    dotted(3, spikeData(salOrangeSpikes), C_ORANGE),
    lineSeries(3, pts([...salBlueEarly, ...salBlueLate]), C_BLUE),
    lineSeries(3, pts([...salOrangeEarly, ...salOrangeLate]), C_ORANGE),
    lineSeries(3, pts([...salOrangeEarly, ...salYellowLate]), C_YELLOW),
    lineSeries(3, pts([...salPurpleEarly, ...salPurpleLate]), C_PURPLE),
    // sigma-theta
    dotted(4, spikeData(sigBlueSpikes), C_BLUE),
    dotted(4, spikeData(sigOrangeSpikes), C_ORANGE),
    lineSeries(4, pts([...sigBlueEarly, ...sigBlueLate]), C_BLUE),
    lineSeries(4, pts([...sigOrangeEarly, ...sigOrangeLate]), C_ORANGE),
    lineSeries(4, pts([...sigPurpleEarly, ...sigYellowLate]), C_YELLOW),
    lineSeries(4, pts([...sigPurpleEarly, ...sigPurpleLate]), C_PURPLE),
  ];

  const txt = (text: string, x: number, y: number, extra: any = {}) => ({
    type: "text",
    x,
    y,
    silent: true,
    z: 100,
    style: { text, fontSize: 24, fontFamily: FONT, fill: "#000", textVerticalAlign: "middle", ...extra },
  });
  const box = (x: number, y: number, w: number, h: number) => ({
    type: "rect",
    silent: true,
    z: 99,
    shape: { x, y, width: w, height: h },
    style: { fill: "#fff", stroke: RED, lineWidth: 2 },
  });
  const seg = (pts2: number[][]) => ({
    type: "polyline",
    silent: true,
    z: 100,
    shape: { points: pts2 },
    style: { stroke: RED, lineWidth: 1.6, fill: "none" },
  });

  const graphic = [
    txt("SOFS-3-2012", 531.5, 28, { fontSize: 23, fontWeight: "bold", textAlign: "center" }),
    box(108.5, 59.5, 383, 34),
    txt("Surface sensor did not measure P", 112.5, 76.5),
    box(98, 624, 393.5, 91),
    txt("multi-sensor rapid changes confirm", 102, 639.3),
    txt("oceanic origins, that might", 102, 669.3),
    txt("otherwise be identified as spikes", 102, 699.3),
    box(111.7, 1198.3, 288.3, 89.4),
    txt("The rapid changes are", 115, 1213.3),
    txt("largely but not completely", 115, 1242.3),
    txt("density compensated", 115, 1271.5),
    seg([[508, 660], [579, 515]]),
    seg([[563, 527], [579, 515], [580, 535]]),
    seg([[505, 672], [561.7, 709]]),
    seg([[541.7, 707.3], [561.7, 709], [551.7, 691.7]]),
    seg([[415, 1246], [546.7, 1324]]),
    seg([[526.7, 1322.7], [546.7, 1324], [536, 1307.7]]),
  ];

  return {
    animation: false,
    backgroundColor: "#ffffff",
    textStyle: { fontFamily: FONT },
    grid: GRIDS.map((g) => ({
      left: 91,
      width: 881,
      top: g.top,
      height: g.height,
      show: true,
      borderColor: INK,
      borderWidth: 1,
      backgroundColor: "transparent",
      containLabel: false,
    })),
    xAxis,
    yAxis,
    series,
    graphic,
  };
}

export default function App() {
  const ref = useRef<HTMLDivElement>(null);
  useEffect(() => {
    document.body.style.margin = "0";
    if (!ref.current) return;
    const chart = echarts.init(ref.current, undefined, { renderer: "svg" });
    chart.setOption(buildOption() as any);
    return () => chart.dispose();
  }, []);
  return <div ref={ref} style={{ width: 1017, height: 1427, background: "#fff" }} />;
}
